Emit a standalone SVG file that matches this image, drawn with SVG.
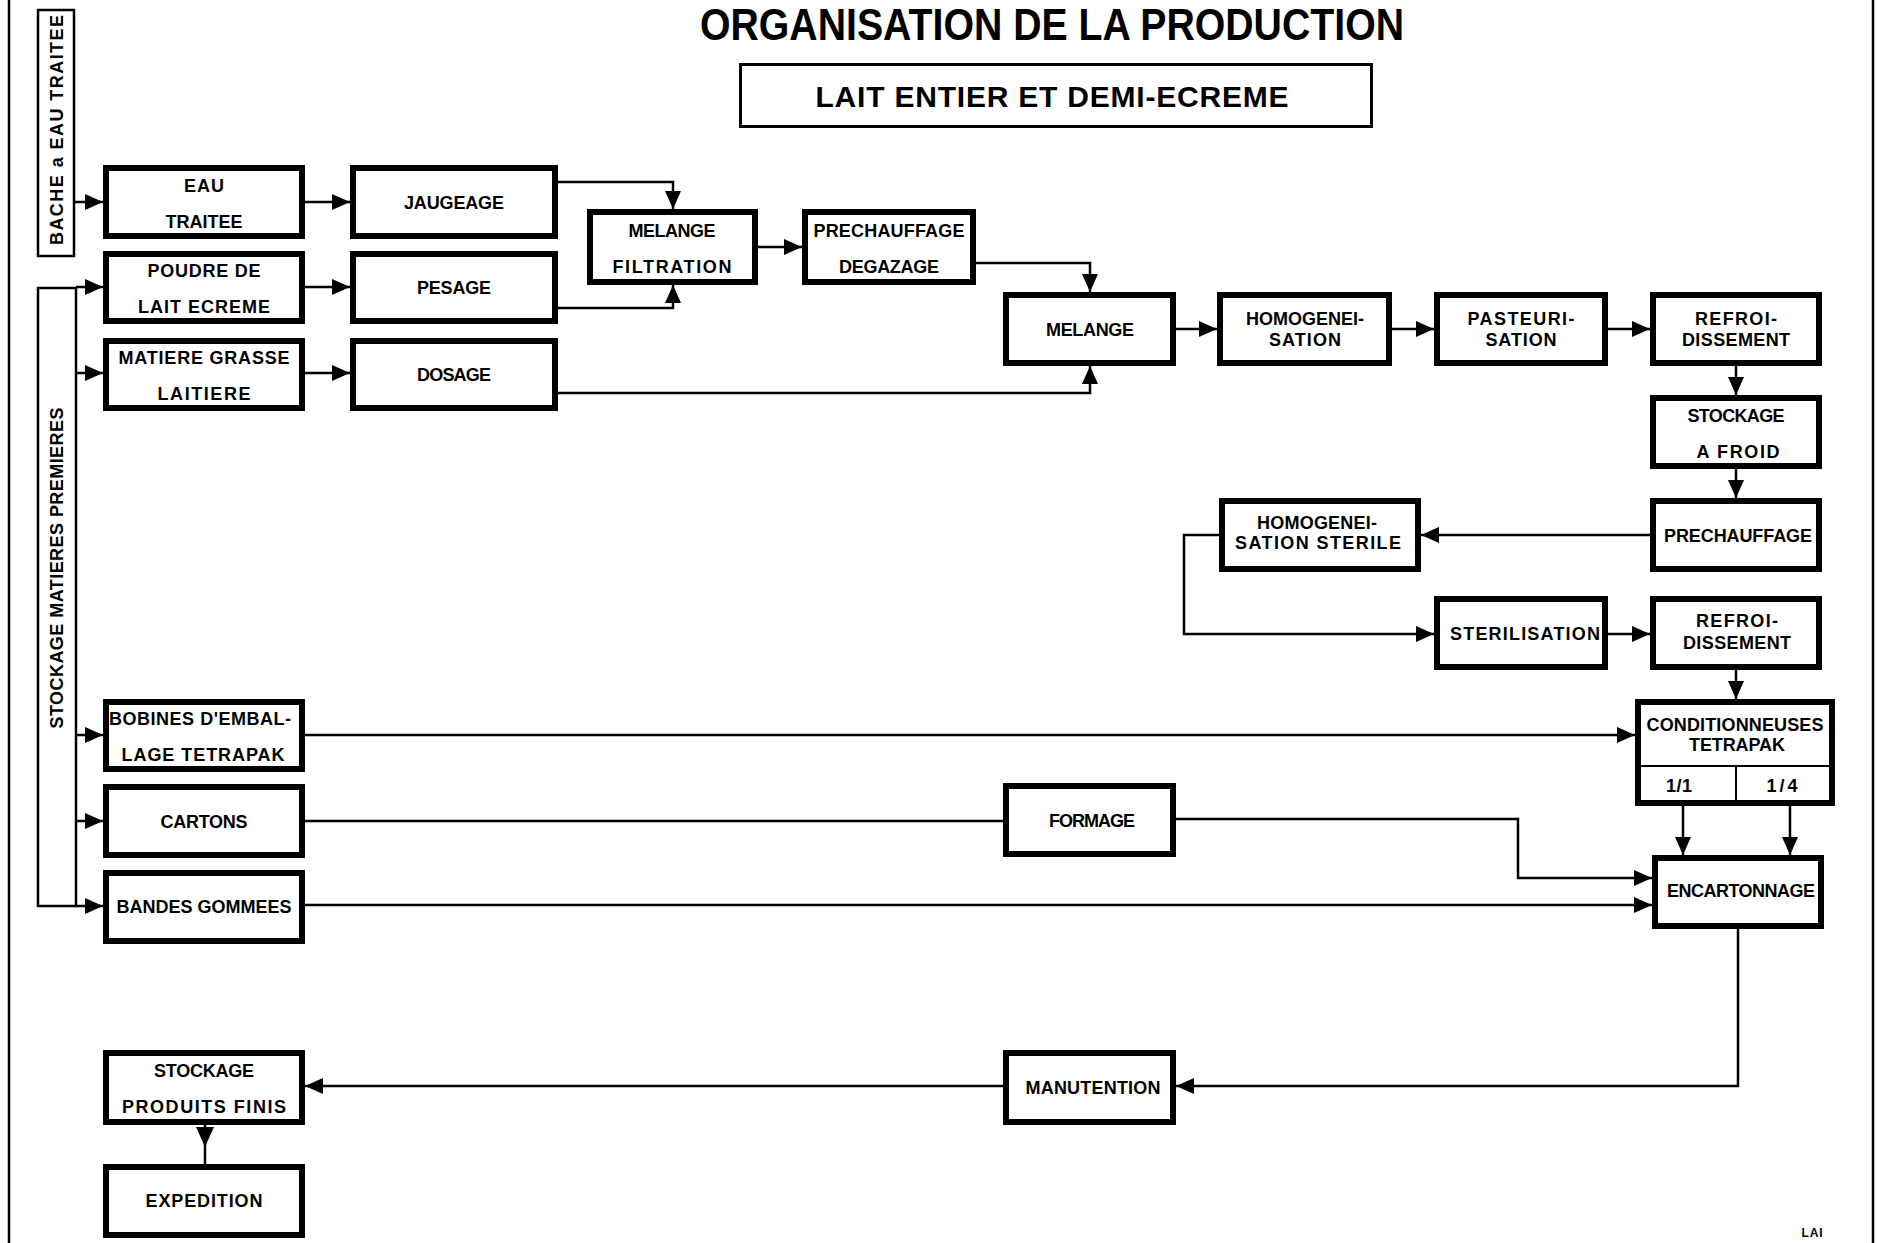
<svg xmlns="http://www.w3.org/2000/svg" width="1877" height="1243" viewBox="0 0 1877 1243">
<defs>
<marker id="arr" markerUnits="userSpaceOnUse" markerWidth="18" markerHeight="16" refX="18" refY="8" orient="auto">
<path d="M0,0 L18,8 L0,16 z" fill="#000"/>
</marker>
<style>
.n{fill:#fff;stroke:#000;stroke-width:6}
.s{fill:#fff;stroke:#000;stroke-width:2.5}
.t{font-family:"Liberation Sans",Arial,sans-serif;font-weight:bold;font-size:18px;text-anchor:middle;fill:#000}
.c{fill:none;stroke:#000;stroke-width:2.5}
.a{marker-end:url(#arr)}
.d{stroke:#000;stroke-width:2}
</style>
</defs>
<rect width="1877" height="1243" fill="#fff"/>
<line x1="9" y1="0" x2="9" y2="1243" stroke="#000" stroke-width="2.5"/>
<line x1="1873" y1="0" x2="1873" y2="1243" stroke="#000" stroke-width="2.5"/>

<g id="title">
<text x="1052" y="40" class="t" style="font-size:44px" textLength="704" lengthAdjust="spacingAndGlyphs">ORGANISATION DE LA PRODUCTION</text>
</g>
<g id="subtitle">
<rect x="740.5" y="64.5" width="631" height="62" fill="#fff" stroke="#000" stroke-width="3"/>
<text x="1052" y="107" class="t" style="font-size:30px" textLength="473">LAIT ENTIER ET DEMI-ECREME</text>
</g>

<g id="bache">
<rect x="38" y="10" width="36" height="246" class="s"/>
<text class="t" transform="translate(56,130) rotate(-90)" x="0" y="6.5" textLength="230">BACHE a EAU TRAITEE</text>
</g>
<g id="stockage-mp">
<rect x="38" y="288" width="38" height="618" class="s"/>
<text class="t" transform="translate(56,568) rotate(-90)" x="0" y="6.5" textLength="321">STOCKAGE MATIERES PREMIERES</text>
</g>

<g id="connectors">
<path class="c a" d="M74,202 H103"/>
<path class="c a" d="M76,287 H103"/>
<path class="c a" d="M76,373 H103"/>
<path class="c a" d="M76,735 H103"/>
<path class="c a" d="M76,821 H103"/>
<path class="c a" d="M76,906 H103"/>
<path class="c a" d="M305,202 H350"/>
<path class="c a" d="M305,287 H350"/>
<path class="c a" d="M305,373 H350"/>
<path class="c a" d="M558,182 H673 V209"/>
<path class="c a" d="M558,308 H673 V285"/>
<path class="c a" d="M758,247 H802"/>
<path class="c a" d="M976,263 H1090 V292"/>
<path class="c a" d="M558,393 H1090 V366"/>
<path class="c a" d="M1176,329 H1217"/>
<path class="c a" d="M1392,329 H1434"/>
<path class="c a" d="M1608,329 H1650"/>
<path class="c a" d="M1736,366 V395"/>
<path class="c a" d="M1736,469 V498"/>
<path class="c a" d="M1650,535 H1421"/>
<path class="c a" d="M1219,535 H1184 V634 H1434"/>
<path class="c a" d="M1608,634 H1650"/>
<path class="c a" d="M1736,670 V699"/>
<path class="c a" d="M305,735 H1635"/>
<path class="c" d="M305,821 H1003"/>
<path class="c a" d="M1176,819 H1518 V878 H1652"/>
<path class="c a" d="M305,905 H1652"/>
<path class="c a" d="M1683,806 V855"/>
<path class="c a" d="M1790,806 V855"/>
<path class="c a" d="M1738,929 V1086 H1176"/>
<path class="c a" d="M1003,1086 H305"/>
<path class="c" d="M205,1125 V1164"/>
<path d="M196,1127 L214,1127 L205,1147 z" fill="#000"/>
</g>

<g id="eau-traitee"><rect x="106" y="168" width="196" height="68" class="n"/>
<text x="204" y="192" class="t" textLength="40">EAU</text><text x="204" y="228" class="t" textLength="77">TRAITEE</text></g>
<g id="jaugeage"><rect x="353" y="168" width="202" height="68" class="n"/>
<text x="454" y="209" class="t" textLength="100">JAUGEAGE</text></g>
<g id="poudre"><rect x="106" y="254" width="196" height="67" class="n"/>
<text x="204" y="277" class="t" textLength="113">POUDRE DE</text><text x="204" y="313" class="t" textLength="132">LAIT ECREME</text></g>
<g id="pesage"><rect x="353" y="254" width="202" height="67" class="n"/>
<text x="454" y="294" class="t" textLength="74">PESAGE</text></g>
<g id="matiere"><rect x="106" y="341" width="196" height="67" class="n"/>
<text x="204" y="364" class="t" textLength="171">MATIERE GRASSE</text><text x="204" y="400" class="t" textLength="93">LAITIERE</text></g>
<g id="dosage"><rect x="353" y="341" width="202" height="67" class="n"/>
<text x="454" y="381" class="t" textLength="74">DOSAGE</text></g>
<g id="melange-filtration"><rect x="590" y="212" width="165" height="70" class="n"/>
<text x="672" y="237" class="t" textLength="87">MELANGE</text><text x="672" y="273" class="t" textLength="119">FILTRATION</text></g>
<g id="prechauffage-degazage"><rect x="805" y="212" width="168" height="70" class="n"/>
<text x="889" y="237" class="t" textLength="151">PRECHAUFFAGE</text><text x="889" y="273" class="t" textLength="100">DEGAZAGE</text></g>
<g id="melange"><rect x="1006" y="295" width="167" height="68" class="n"/>
<text x="1090" y="336" class="t" textLength="88">MELANGE</text></g>
<g id="homogeneisation"><rect x="1220" y="295" width="169" height="68" class="n"/>
<text x="1305" y="325" class="t" textLength="118">HOMOGENEI-</text><text x="1305" y="346" class="t" textLength="72">SATION</text></g>
<g id="pasteurisation"><rect x="1437" y="295" width="168" height="68" class="n"/>
<text x="1521" y="325" class="t" textLength="107">PASTEURI-</text><text x="1521" y="346" class="t" textLength="71">SATION</text></g>
<g id="refroidissement1"><rect x="1653" y="295" width="166" height="68" class="n"/>
<text x="1736" y="325" class="t" textLength="82">REFROI-</text><text x="1736" y="346" class="t" textLength="108">DISSEMENT</text></g>
<g id="stockage-froid"><rect x="1653" y="398" width="166" height="68" class="n"/>
<text x="1736" y="422" class="t" textLength="97">STOCKAGE</text><text x="1738" y="458" class="t" textLength="83">A FROID</text></g>
<g id="prechauffage"><rect x="1653" y="501" width="166" height="68" class="n"/>
<text x="1738" y="542" class="t" textLength="148">PRECHAUFFAGE</text></g>
<g id="homogeneisation-sterile"><rect x="1222" y="501" width="196" height="68" class="n"/>
<text x="1317" y="529" class="t" textLength="120">HOMOGENEI-</text><text x="1318" y="549" class="t" textLength="166">SATION STERILE</text></g>
<g id="sterilisation"><rect x="1437" y="599" width="168" height="68" class="n"/>
<text x="1525" y="640" class="t" textLength="150">STERILISATION</text></g>
<g id="refroidissement2"><rect x="1653" y="599" width="166" height="68" class="n"/>
<text x="1737" y="627" class="t" textLength="82">REFROI-</text><text x="1737" y="649" class="t" textLength="108">DISSEMENT</text></g>
<g id="conditionneuses"><rect x="1638" y="702" width="194" height="101" class="n"/>
<line x1="1638" y1="766" x2="1832" y2="766" class="d"/>
<line x1="1736" y1="766" x2="1736" y2="803" class="d"/>
<text x="1735" y="731" class="t" textLength="177">CONDITIONNEUSES</text><text x="1737" y="751" class="t" textLength="96">TETRAPAK</text>
<text x="1679" y="792" class="t" textLength="26">1/1</text><text x="1782" y="792" class="t" textLength="31">1/4</text></g>
<g id="encartonnage"><rect x="1655" y="858" width="166" height="68" class="n"/>
<text x="1741" y="897" class="t" textLength="148">ENCARTONNAGE</text></g>
<g id="bobines"><rect x="106" y="702" width="196" height="67" class="n"/>
<text x="200" y="725" class="t" textLength="182">BOBINES D'EMBAL-</text><text x="203" y="761" class="t" textLength="163">LAGE TETRAPAK</text></g>
<g id="cartons"><rect x="106" y="787" width="196" height="68" class="n"/>
<text x="204" y="828" class="t" textLength="87">CARTONS</text></g>
<g id="bandes"><rect x="106" y="873" width="196" height="68" class="n"/>
<text x="204" y="913" class="t" textLength="175">BANDES GOMMEES</text></g>
<g id="formage"><rect x="1006" y="786" width="167" height="68" class="n"/>
<text x="1092" y="827" class="t" textLength="86">FORMAGE</text></g>
<g id="stockage-pf"><rect x="106" y="1053" width="196" height="69" class="n"/>
<text x="204" y="1077" class="t" textLength="100">STOCKAGE</text><text x="204" y="1113" class="t" textLength="164">PRODUITS FINIS</text></g>
<g id="expedition"><rect x="106" y="1167" width="196" height="68" class="n"/>
<text x="204" y="1207" class="t" textLength="117">EXPEDITION</text></g>
<g id="manutention"><rect x="1006" y="1053" width="167" height="69" class="n"/>
<text x="1093" y="1094" class="t" textLength="135">MANUTENTION</text></g>

<text x="1812" y="1237" class="t" style="font-size:12px" textLength="21">LAI</text>
</svg>
